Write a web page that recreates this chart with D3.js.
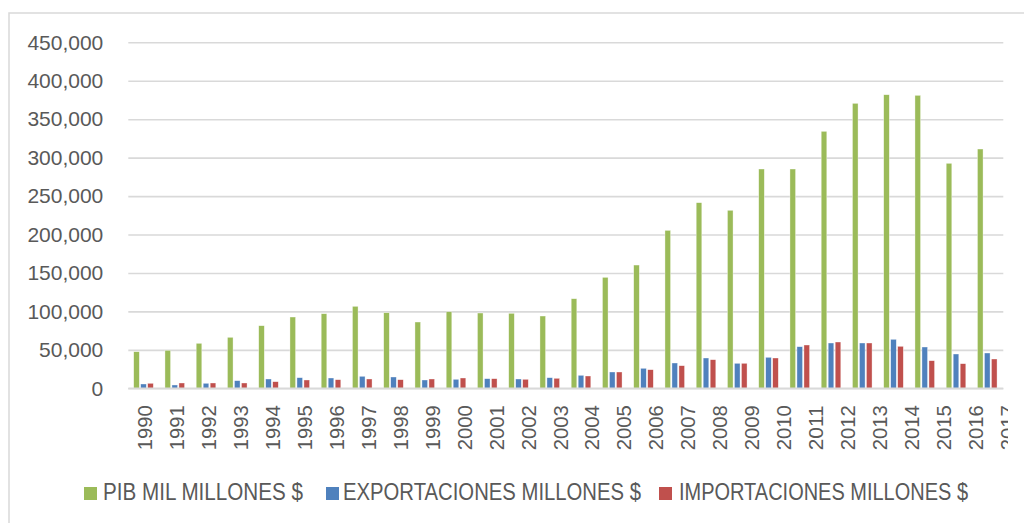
<!DOCTYPE html>
<html><head><meta charset="utf-8">
<script src="https://cdn.jsdelivr.net/npm/d3@7"></script>
<style>html,body{margin:0;padding:0;background:#fff;overflow:hidden}</style>
</head><body>
<svg id="c" width="1024" height="523"></svg>
<script>
const categories = ["1990","1991","1992","1993","1994","1995","1996","1997","1998","1999","2000","2001","2002","2003","2004","2005","2006","2007","2008","2009","2010","2011","2012","2013","2014","2015","2016","2017"];
const pib = [47600,49400,58500,66300,81400,92700,97000,106600,98300,86200,99600,97900,97500,94000,116500,144300,160300,205400,241400,231500,285200,285200,334200,370600,381800,381000,292600,311200];
const exportaciones = [5600,4300,6500,9900,12100,13800,13400,15600,14700,10800,11700,12500,12100,13800,16900,21200,26000,32900,39400,32500,40300,54100,58900,58900,63700,53700,44600,45900];
const importaciones = [6500,6900,6900,6900,8600,10800,11200,12100,11200,12100,13400,12500,11700,13000,16000,21200,24200,29400,37200,32500,39400,56300,60200,58900,54600,35900,32000,38100];
const yTicks = [0,50000,100000,150000,200000,250000,300000,350000,400000,450000];
const seriesNames = ["PIB MIL MILLONES $","EXPORTACIONES MILLONES $","IMPORTACIONES MILLONES $"];
const colors = ["#9bbb59","#4f81bd","#c0504d"];
const seriesData = [pib, exportaciones, importaciones];

const svg = d3.select("#c");
const textColor = "#595959";

svg.append("defs").append("clipPath").attr("id","lblclip")
  .append("rect").attr("x",0).attr("y",380).attr("width",1008).attr("height",100);

// outer border
svg.append("rect").attr("x",9).attr("y",13).attr("width",1040).attr("height",530)
  .attr("fill","none").attr("stroke","#d9d9d9").attr("stroke-width",1.5);

const left = 128.3, right = 1003.3;
const y = d3.scaleLinear().domain([0,450000]).range([388.3,42.3]);
const x0 = d3.scaleBand().domain(categories).range([left,right]).padding(0);
const x1 = d3.scaleBand().domain([0,1,2]).range([x0.bandwidth()*0.173, x0.bandwidth()*0.8]).paddingInner(0.2);
// label positions (labels in the reference are spaced slightly wider than the bars)
const xl = d3.scaleBand().domain(categories).range([129,1023.6]).padding(0);

// gridlines
const yAxis = d3.axisLeft(y).tickValues(yTicks).tickSize(-(right-left)).tickFormat(d3.format(","));
const gy = svg.append("g").attr("transform",`translate(${left},0)`).call(yAxis);
gy.select(".domain").remove();
gy.selectAll(".tick line").attr("stroke","#d9d9d9").attr("stroke-width",1.6);
gy.selectAll(".tick text").attr("x",-25).attr("fill",textColor)
  .style("font-family","'Liberation Sans', Arial, sans-serif").style("font-size","21px");

// bars
const groups = svg.append("g").selectAll("g").data(categories).join("g")
  .attr("transform",d=>`translate(${x0(d)},0)`);
groups.selectAll("rect").data((d,i)=>seriesData.map((s,k)=>({k, v:s[i]}))).join("rect")
  .attr("x",d=>x1(d.k)).attr("width",x1.bandwidth())
  .attr("y",d=>y(d.v)).attr("height",d=>y(0)-y(d.v))
  .attr("fill",d=>colors[d.k]).attr("stroke","#ffffff").attr("stroke-opacity",0.6).attr("stroke-width",0.6);

// x axis baseline
svg.append("line").attr("x1",left).attr("x2",right).attr("y1",y(0)).attr("y2",y(0))
  .attr("stroke","#d9d9d9").attr("stroke-width",1.8);

// x labels
const xAxis = d3.axisBottom(xl).tickSize(0);
const gx = svg.append("g").attr("clip-path","url(#lblclip)")
  .append("g").attr("transform",`translate(0,${y(0)})`).call(xAxis);
gx.select(".domain").remove();
gx.selectAll(".tick text")
  .attr("transform","rotate(-90)").attr("x",-17).attr("y",0).attr("dy","0.36em")
  .attr("text-anchor","end").attr("fill",textColor)
  .style("font-family","'Liberation Sans', Arial, sans-serif").style("font-size","20px")
  .attr("textLength",45).attr("lengthAdjust","spacingAndGlyphs");

// legend
const legendItems = [
  {sq:84, tx:103, w:200},
  {sq:326, tx:343, w:298},
  {sq:659, tx:679, w:289}
];
const lg = svg.append("g");
legendItems.forEach((it,k)=>{
  lg.append("rect").attr("x",it.sq).attr("y",487).attr("width",13).attr("height",13).attr("fill",colors[k]);
  lg.append("text").attr("x",it.tx).attr("y",500).text(seriesNames[k]).attr("fill",textColor)
    .style("font-family","'Liberation Sans Narrow', 'Liberation Sans', Arial, sans-serif").style("font-size","23px")
    .attr("textLength",it.w).attr("lengthAdjust","spacingAndGlyphs");
});
</script>
</body></html>
